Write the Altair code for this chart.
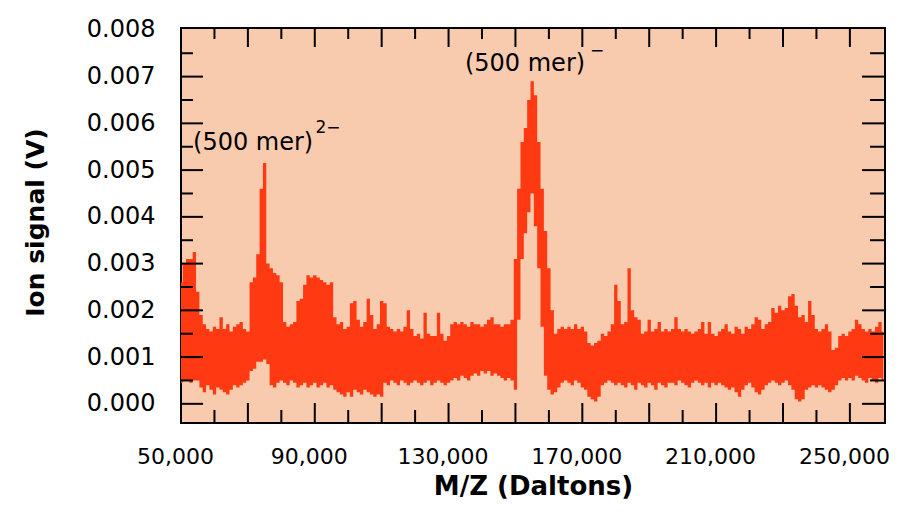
import altair as alt
import pandas as pd

# ---- data ----
mz_start = 50000
mz_step = 1000

# upper and lower envelope of the noisy trace, in mV
upper_mV = [
    2.6, 3.0, 3.1, 3.1, 3.25, 2.4, 1.9, 1.7, 1.6, 1.55,
    1.65, 1.6, 1.85, 1.6, 1.7, 1.55, 1.65, 1.7, 1.75, 1.6,
    1.55, 2.6, 2.7, 3.2, 4.6, 5.15, 3.0, 2.9, 2.8, 2.75,
    2.6, 1.75, 1.65, 1.7, 1.75, 2.2, 2.25, 2.55, 2.75, 2.7,
    2.75, 2.7, 2.65, 2.6, 2.55, 2.6, 1.85, 1.7, 1.75, 1.6,
    1.65, 2.15, 2.2, 1.8, 1.65, 1.75, 2.25, 1.9, 1.6, 1.7,
    2.2, 2.15, 1.65, 1.6, 1.55, 1.6, 1.55, 1.65, 2.0, 1.6,
    1.45, 1.5, 1.4, 1.95, 1.5, 1.45, 1.45, 1.95, 1.5, 1.35,
    1.45, 1.7, 1.75, 1.7, 1.75, 1.7, 1.65, 1.75, 1.7, 1.7,
    1.65, 1.7, 1.8, 1.85, 1.7, 1.7, 1.65, 1.7, 1.7, 1.8,
    3.1, 4.6, 5.6, 5.9, 6.5, 6.9, 6.6, 5.6, 4.6, 3.7,
    2.9, 2.0, 1.5, 1.6, 1.65, 1.6, 1.65, 1.6, 1.7, 1.6,
    1.65, 1.55, 1.3, 1.25, 1.3, 1.35, 1.5, 1.45, 1.55, 1.7,
    2.55, 2.2, 1.7, 1.75, 2.9, 2.0, 1.85, 1.8, 1.5, 1.55,
    1.8, 1.55, 1.6, 1.75, 1.55, 1.6, 1.55, 1.6, 1.85, 1.6,
    1.55, 1.6, 1.55, 1.5, 1.55, 1.6, 1.75, 1.5, 1.75, 1.5,
    1.45, 1.55, 1.6, 1.7, 1.55, 1.5, 1.65, 1.6, 1.5, 1.65,
    1.6, 1.7, 1.85, 1.8, 1.6, 1.7, 1.75, 2.05, 1.95, 2.1,
    2.0, 2.05, 2.3, 2.35, 2.1, 1.85, 1.9, 1.75, 2.2, 1.9,
    1.6, 1.55, 1.6, 1.7, 1.55, 1.15, 1.2, 1.45, 1.5, 1.45,
    1.55, 1.6, 1.8, 1.7, 1.6, 1.55, 1.6, 1.55, 1.65, 1.75,
    1.55,
]
lower_mV = [
    0.45, 0.5, 0.5, 0.45, 0.5, 0.5, 0.35, 0.25, 0.4, 0.3,
    0.2, 0.35, 0.3, 0.25, 0.2, 0.3, 0.4, 0.35, 0.4, 0.45,
    0.5, 0.7, 0.75, 0.9, 0.9, 0.95, 0.85, 0.4, 0.35, 0.45,
    0.5, 0.45, 0.4, 0.5, 0.45, 0.35, 0.4, 0.45, 0.35, 0.4,
    0.45, 0.35, 0.4, 0.45, 0.35, 0.4, 0.3, 0.25, 0.2, 0.15,
    0.25, 0.15, 0.3, 0.25, 0.2, 0.3, 0.25, 0.2, 0.15, 0.2,
    0.15, 0.45, 0.4, 0.5, 0.45, 0.4, 0.5, 0.45, 0.4, 0.45,
    0.5, 0.45, 0.4, 0.45, 0.5, 0.4, 0.45, 0.5, 0.45, 0.4,
    0.45, 0.5, 0.55, 0.5, 0.6, 0.55, 0.5, 0.6, 0.65, 0.6,
    0.7, 0.65, 0.7, 0.6, 0.65, 0.6, 0.55, 0.5, 0.55, 0.5,
    0.3, 1.8, 3.1, 3.65, 4.1, 4.5, 3.8, 2.9, 1.65, 0.6,
    0.3, 0.2, 0.25, 0.35, 0.45, 0.5, 0.45, 0.4, 0.5, 0.45,
    0.35, 0.3, 0.15, 0.1, 0.05, 0.15, 0.4, 0.45, 0.5, 0.45,
    0.4, 0.45, 0.4, 0.35, 0.45, 0.4, 0.3, 0.45, 0.4, 0.35,
    0.45, 0.4, 0.3, 0.45, 0.4, 0.35, 0.45, 0.45, 0.4, 0.5,
    0.45, 0.4, 0.35, 0.45, 0.5, 0.45, 0.4, 0.45, 0.35, 0.45,
    0.4, 0.45, 0.4, 0.35, 0.3, 0.35, 0.25, 0.15, 0.3, 0.4,
    0.45, 0.35, 0.25, 0.2, 0.3, 0.4, 0.45, 0.5, 0.45, 0.4,
    0.45, 0.5, 0.4, 0.3, 0.1, 0.05, 0.1, 0.3, 0.35, 0.4,
    0.35, 0.4, 0.35, 0.3, 0.25, 0.3, 0.4, 0.5, 0.55, 0.5,
    0.55, 0.5, 0.6, 0.55, 0.5, 0.45, 0.55, 0.5, 0.45, 0.55,
    0.5,
]

x_label_values = [50000, 90000, 130000, 170000, 210000, 250000]
y_label_values = [0.0, 0.001, 0.002, 0.003, 0.004, 0.005, 0.006, 0.007, 0.008]
x_major_ticks = [70000, 90000, 110000, 130000, 150000, 170000, 190000, 210000, 230000, 250000]
x_minor_ticks = [60000, 80000, 100000, 120000, 140000, 160000, 180000, 200000, 220000, 240000]
y_major_ticks = [0.0, 0.001, 0.002, 0.003, 0.004, 0.005, 0.006, 0.007]
y_minor_ticks = [0.0005, 0.0015, 0.0025, 0.0035, 0.0045, 0.0055, 0.0065, 0.0075]

ann_text = ["(500 mer)", "(500 mer)"]
ann_x = [53600, 134900]
ann_y = [0.00558, 0.00727]
sup_text = ["2\u2212", "\u2212"]
sup_x = [90200, 172300]
sup_y = [0.00590, 0.00755]

# ---- build tables ----
n = len(upper_mV)
assert n == len(lower_mV)
sig = pd.DataFrame({
    "mz": [mz_start + mz_step * i for i in range(n)],
    "hi": [v / 1000 for v in upper_mV],
    "lo": [v / 1000 for v in lower_mV],
})

W, H = 704, 395
FONT = "DejaVu Sans"
xscale = alt.Scale(domain=[50000, 260500], nice=False, zero=False)
yscale = alt.Scale(domain=[-0.00041, 0.00804], nice=False, zero=False)

xaxis = alt.Axis(values=x_label_values, format=",d", title="M/Z (Daltons)",
                 ticks=False, domain=False, grid=False,
                 labelFlush=False, labelOverlap=False, labelOffset=-6,
                 labelPadding=23, labelFont=FONT, labelFontSize=22,
                 labelColor="black", titleFont=FONT, titleFontSize=26,
                 titleFontWeight="bold", titleColor="black",
                 titleX=W / 2, titleY=63, titleBaseline="middle",
                 titleAlign="center")
yaxis = alt.Axis(values=y_label_values, format=".3f", title="Ion signal (V)",
                 ticks=False, domain=False, grid=False,
                 labelFlush=False, labelOverlap=False,
                 labelPadding=26, labelFont=FONT, labelFontSize=24,
                 labelColor="black", titleFont=FONT, titleFontSize=25,
                 titleFontWeight="bold", titleColor="black",
                 titleX=-146, titleY=194, titleBaseline="middle",
                 titleAlign="center", titleAngle=270)

area = alt.Chart(sig).mark_area(color="#FF3A12", interpolate="step", opacity=1).encode(
    x=alt.X("mz:Q", scale=xscale, axis=xaxis),
    y=alt.Y("hi:Q", scale=yscale, axis=yaxis),
    y2="lo:Q",
)


def xticks(vals, y0, y1):
    return alt.Chart(pd.DataFrame({"mz": vals})).mark_rule(color="black", strokeWidth=2).encode(
        x=alt.X("mz:Q", scale=xscale, axis=xaxis),
        y=alt.value(y0), y2=alt.value(y1))


def yticks(vals, x0, x1):
    return alt.Chart(pd.DataFrame({"hi": vals})).mark_rule(color="black", strokeWidth=2).encode(
        y=alt.Y("hi:Q", scale=yscale, axis=yaxis),
        x=alt.value(x0), x2=alt.value(x1))


ticks = [
    xticks(x_major_ticks, H, H - 20), xticks(x_minor_ticks, H, H - 13),
    xticks(x_major_ticks, 0, 19), xticks(x_minor_ticks, 0, 11),
    yticks(y_major_ticks, 0, 22), yticks(y_minor_ticks, 0, 12),
    yticks(y_major_ticks, W, W - 23), yticks(y_minor_ticks, W, W - 15),
]

ann = alt.Chart(pd.DataFrame({"t": ann_text, "mz": ann_x, "hi": ann_y})).mark_text(
    align="left", baseline="middle", font=FONT, fontSize=24, color="black").encode(
    x=alt.X("mz:Q", scale=xscale, axis=xaxis), y=alt.Y("hi:Q", scale=yscale, axis=yaxis),
    text="t:N")
sup = alt.Chart(pd.DataFrame({"t": sup_text, "mz": sup_x, "hi": sup_y})).mark_text(
    align="left", baseline="middle", font=FONT, fontSize=17, color="black").encode(
    x=alt.X("mz:Q", scale=xscale, axis=xaxis), y=alt.Y("hi:Q", scale=yscale, axis=yaxis),
    text="t:N")

chart = alt.layer(area, *ticks, ann, sup).properties(
    width=W, height=H,
    padding={"left": 173, "top": 20, "right": 6, "bottom": 80},
    autosize=alt.AutoSizeParams(type="none"),
    background="white",
).configure_view(fill="#F9CBAE", stroke="black", strokeWidth=2)

chart.save("out.html", embed_options={"renderer": "svg", "actions": False})
